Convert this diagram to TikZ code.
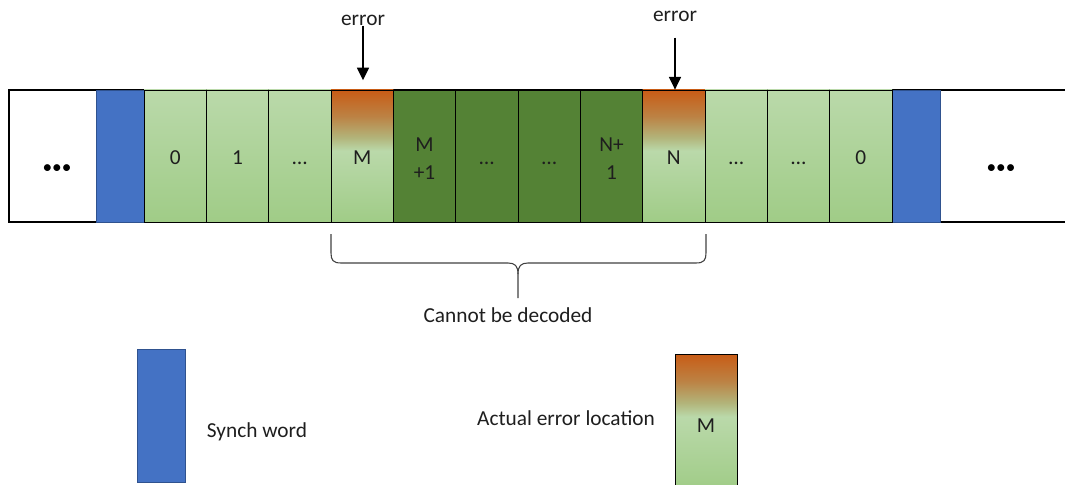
\documentclass[tikz,border=0pt]{standalone}
\usepackage{fontspec}
\setmainfont{Carlito}
\usetikzlibrary{arrows.meta}

\definecolor{synch}{HTML}{4472C4}
\definecolor{synchedge}{HTML}{2F528F}
\definecolor{lgtop}{RGB}{186,217,170}
\definecolor{lgbot}{RGB}{160,204,135}
\definecolor{dkgreen}{HTML}{548235}
\definecolor{errtop}{RGB}{200,92,22}
\definecolor{errmid}{RGB}{188,130,68}
\definecolor{errlow}{RGB}{178,180,122}
\definecolor{ink}{HTML}{1E1E1E}
\definecolor{bracegray}{HTML}{404040}

% light green fading into an orange cap at the top of an erroneous cell
\pgfdeclareverticalshading{errfade}{100bp}{color(0bp)=(lgbot); color(25bp)=(lgbot);
  color(52bp)=(lgtop); color(57bp)=(errlow); color(65bp)=(errmid);
  color(75bp)=(errtop); color(100bp)=(errtop)}

\newcommand{\cellfont}{\fontsize{16}{21.5}\selectfont}

\tikzset{
  cellbox/.style={draw=black, line width=0.6pt, minimum width=46.75pt,
    minimum height=99pt, inner sep=0pt},
  lgcell/.style={cellbox, top color=lgtop, bottom color=lgbot},
  dkcell/.style={cellbox, fill=dkgreen},
  errcell/.style={cellbox, shading=errfade},
  synchbox/.style={draw=synchedge, line width=0.6pt, fill=synch, inner sep=0pt,
    minimum width=36pt, minimum height=99pt},
  celltext/.style={font=\cellfont, text=ink, inner sep=0pt, align=center,
    text height=10.8pt, text depth=0pt, yshift=-1.3pt},
  twoline/.style={font=\cellfont, text=ink, inner sep=0pt, align=center, yshift=-2pt},
  caption/.style={font=\cellfont, text=ink, inner sep=0pt},
  errarrow/.style={draw=black, line width=1.1pt,
    -{Triangle[width=9pt,length=9.5pt]}},
  dots/.style={font=\fontsize{14.5}{16}\selectfont, text=black, inner sep=0pt}
}

\begin{document}
\begin{tikzpicture}[x=0.75pt, y=-0.75pt]
\useasboundingbox (0,0) rectangle (1065,485);

% stream frame, open on the right
\draw[line width=1.6pt] (1066,90) -- (9,90) -- (9,222) -- (1066,222);

% white filler areas at both ends
\node[dots, anchor=base] (lend) at (57,173) {•••};
\node[dots, anchor=base] (rend) at (1001,173) {•••};

% synch words
\node[synchbox] (s1) at (120,156) {};
\node[synchbox] (s2) at (916,156) {};

% codeword cells
\node[lgcell]  (c1)  at (175.17,156) {};
\node[lgcell]  (c2)  at (237.50,156) {};
\node[lgcell]  (c3)  at (299.83,156) {};
\node[errcell] (c4)  at (362.17,156) {};
\node[dkcell]  (c5)  at (424.50,156) {};
\node[dkcell]  (c6)  at (486.83,156) {};
\node[dkcell]  (c7)  at (549.17,156) {};
\node[dkcell]  (c8)  at (611.50,156) {};
\node[errcell] (c9)  at (673.83,156) {};
\node[lgcell]  (c10) at (736.17,156) {};
\node[lgcell]  (c11) at (798.50,156) {};
\node[lgcell]  (c12) at (860.83,156) {};

% cell labels
\node[celltext] (t1)  at (c1)  {0};
\node[celltext] (t2)  at (c2)  {1};
\node[celltext] (t3)  at (c3)  {…};
\node[celltext] (t4)  at (c4)  {M};
\node[twoline]  (t5)  at (c5)  {M\\+1};
\node[celltext] (t6)  at (c6)  {…};
\node[celltext] (t7)  at (c7)  {…};
\node[twoline]  (t8)  at (c8)  {N+\\1};
\node[celltext] (t9)  at (c9)  {N};
\node[celltext] (t10) at (c10) {…};
\node[celltext] (t11) at (c11) {…};
\node[celltext] (t12) at (c12) {0};

% error markers
\node[caption] (e1) at (363,20) {error};
\node[caption] (e2) at (675,16) {error};
\draw[errarrow, shorten >=7pt] (e1.south) -- (e1.south |- c4.north);
\draw[errarrow, shorten <=12pt] (e2.south) -- (e2.south |- c9.north);

% brace under the undecodable span
\coordinate (bl) at (331,234);
\coordinate (br) at (706,234);
\coordinate (bt) at (518,298);
\draw[bracegray, line width=0.8pt]
  (bl) -- (331,253) .. controls (331,260) and (333,263) .. (341,263)
  -- (508,263) .. controls (515,263) and (518,266) .. (518,274) -- (bt);
\draw[bracegray, line width=0.8pt]
  (br) -- (706,253) .. controls (706,260) and (704,263) .. (696,263)
  -- (528,263) .. controls (521,263) and (518,266) .. (518,274);
\node[caption] (cbd) at (508,315) {Cannot be decoded};

% legend
\node[synchbox, minimum height=99.75pt] (ls) at (161,415.5) {};
\node[caption] (lst) at (257,432) {Synch word};
\node[errcell, minimum width=46.5pt, minimum height=102pt] (le) at (706,422) {};
\node[celltext] (let) at (706,424) {M};
\node[caption] (lel) at (566,418) {Actual error location};
\end{tikzpicture}
\end{document}
